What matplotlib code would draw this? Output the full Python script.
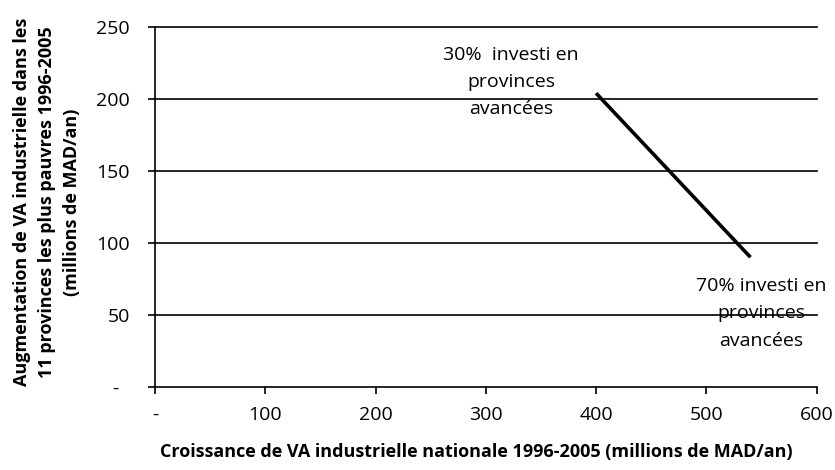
import matplotlib
matplotlib.use("Agg")
import matplotlib.pyplot as plt

plt.rcParams['font.family'] = ['Open Sans', 'DejaVu Sans']

# data
x_vals = [400, 540]
y_vals = [204, 90]
x_ticks = [0, 100, 200, 300, 400, 500, 600]
x_labels = ['-', '100', '200', '300', '400', '500', '600']
y_ticks = [0, 50, 100, 150, 200, 250]
y_labels = ['-  ', '50', '100', '150', '200', '250']
note_30 = "30%  investi en\nprovinces\navancées"
note_70 = "70% investi en\nprovinces\navancées"

fig = plt.figure(figsize=(8.35, 4.70), dpi=100)
ax = fig.add_axes([0.1856, 0.177, 0.7924, 0.7656])

ax.plot(x_vals, y_vals, color='black', linewidth=2.6, solid_capstyle='butt')

ax.set_xlim(0, 600)
ax.set_ylim(0, 250)
ax.set_xticks(x_ticks)
ax.set_xticklabels(x_labels, fontsize=14)
ax.set_yticks(y_ticks)
ax.set_yticklabels(y_labels, fontsize=14)
ax.tick_params(axis='both', direction='out', length=5, width=1.2, color='black')
ax.tick_params(axis='x', pad=9)
ax.tick_params(axis='y', pad=13)

for y in y_ticks[1:]:
    ax.axhline(y, color='black', linewidth=1.2, clip_on=False, zorder=1)

for side in ['top', 'right']:
    ax.spines[side].set_visible(False)
for side in ['left', 'bottom']:
    ax.spines[side].set_linewidth(1.2)
    ax.spines[side].set_color('black')

ax.text(323, 212, note_30, ha='center', va='center', fontsize=14, linespacing=1.65)
ax.text(550, 51, note_70, ha='center', va='center', fontsize=14, linespacing=1.65)

ax.set_xlabel("Croissance de VA industrielle nationale 1996-2005 (millions de MAD/an)",
              fontsize=13, fontweight='bold', va='center')
ax.xaxis.set_label_coords(0.485, -0.18)
ax.set_ylabel("Augmentation de VA industrielle dans les\n11 provinces les plus pauvres 1996-2005\n(millions de MAD/an)",
              fontsize=13, fontweight='bold', linespacing=1.5, va='center')
ax.yaxis.set_label_coords(-0.163, 0.514)

plt.savefig("out.png", dpi=100)
plt.close()
